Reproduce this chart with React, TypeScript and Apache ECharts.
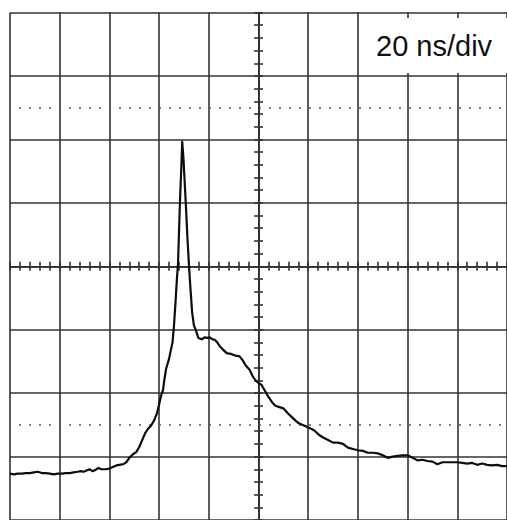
import React, { useEffect, useRef } from "react";
import * as echarts from "echarts";

// Time axis in nanoseconds (20 ns per division, centre = 0 ns)
const TIME_NS = [
  -100, -98.4, -96.8, -95.2, -93.6, -92, -90.4, -88.8, -87.2, -85.6,
  -84, -82.4, -80.8, -79.2, -77.6, -76, -74.4, -72.8, -71.6, -70.4,
  -69.2, -68, -66.8, -65.6, -64.4, -63.2, -61.6, -60, -58.4, -57.2,
  -56, -54.4, -53.2, -52, -50.4, -49.2, -48, -46.8, -45.6, -44.4,
  -43.2, -42, -40.8, -40, -39.2, -38.4, -38, -37.2, -36, -35.2,
  -34.6, -34, -33.4, -32.8, -32.4, -31.6, -31, -30.7, -30.2, -29.3,
  -28.6, -28, -27.4, -26.7, -26, -25.2, -24.2, -22.8, -21.6, -20.8,
  -19.6, -18.6, -17.6, -16.6, -15.6, -14.4, -12.8, -11.2, -9.2, -7.6,
  -6.4, -5.2, -3.6, -2.4, -1.2, 0, 1.2, 2.4, 4, 5.6,
  6.8, 8.4, 10, 11.6, 13.2, 14.8, 16, 17.6, 20, 21.6,
  22.8, 24.4, 26, 28, 30, 32, 34, 36, 38, 40,
  42, 44, 46, 48, 50, 52, 54, 56, 58, 60,
  62, 64, 66, 68, 70, 72, 74, 76, 78, 80,
  82, 84, 86, 88, 90, 92, 94, 96, 98, 100,
];

// Trace level in vertical divisions (centre line = 0)
const LEVEL_DIV = [
  -3.27, -3.28, -3.27, -3.27, -3.26, -3.26, -3.25, -3.24, -3.26, -3.26,
  -3.27, -3.28, -3.27, -3.27, -3.26, -3.26, -3.25, -3.24, -3.23, -3.24,
  -3.22, -3.2, -3.23, -3.21, -3.18, -3.2, -3.2, -3.19, -3.16, -3.14,
  -3.13, -3.12, -3.09, -3.02, -2.96, -2.93, -2.85, -2.74, -2.63, -2.56,
  -2.51, -2.43, -2.31, -2.18, -2.04, -1.95, -1.82, -1.62, -1.46, -1.31,
  -1.2, -0.93, -0.57, -0.18, 0.03, 1.02, 1.62, 1.96, 1.7, 1.02,
  0.45, 0.03, -0.34, -0.73, -0.93, -1.01, -1.13, -1.15, -1.12, -1.13,
  -1.12, -1.15, -1.16, -1.2, -1.26, -1.31, -1.37, -1.38, -1.41, -1.42,
  -1.48, -1.56, -1.63, -1.73, -1.8, -1.84, -1.87, -1.95, -2.06, -2.15,
  -2.2, -2.22, -2.24, -2.31, -2.37, -2.43, -2.47, -2.5, -2.54, -2.57,
  -2.6, -2.66, -2.7, -2.74, -2.78, -2.78, -2.8, -2.86, -2.88, -2.9,
  -2.91, -2.94, -2.94, -2.95, -2.98, -3.02, -3.0, -2.99, -2.98, -2.98,
  -3.02, -3.06, -3.05, -3.07, -3.08, -3.12, -3.09, -3.09, -3.09, -3.09,
  -3.1, -3.11, -3.1, -3.13, -3.11, -3.13, -3.14, -3.13, -3.15, -3.15,
];

const TIME_RANGE_NS = [-100, 100];
const TIME_PER_DIV_NS = 20;
const LEVEL_RANGE_DIV = [-4, 4];
const LEVEL_PER_DIV = 1;
const MARKER_LEVELS_DIV = [2.5, -2.5];
const SCALE_LABEL = "20 ns/div";

export default function App() {
  const ref = useRef<HTMLDivElement>(null);

  useEffect(() => {
    if (!ref.current) return;
    const chart = echarts.init(ref.current, null, { renderer: "svg" });
    const gridColor = "#333333";
    const lineStyle = { color: gridColor, width: 1.6 };

    const xBase = {
      type: "value",
      min: TIME_RANGE_NS[0],
      max: TIME_RANGE_NS[1],
      interval: TIME_PER_DIV_NS,
      axisLabel: { show: false },
    };
    const yBase = {
      type: "value",
      min: LEVEL_RANGE_DIV[0],
      max: LEVEL_RANGE_DIV[1],
      interval: LEVEL_PER_DIV,
      axisLabel: { show: false },
    };
    const gridAxis = {
      axisLine: { show: false },
      axisTick: { show: false },
      splitLine: { show: true, lineStyle },
    };
    const centreAxis = (inside: boolean) => ({
      axisLine: { show: true, onZero: true, onZeroAxisIndex: 0, lineStyle },
      axisTick: { show: true, inside, length: 4.5, lineStyle },
      minorTick: { show: true, splitNumber: 5, length: 4.5, lineStyle },
      splitLine: { show: false },
    });

    const option = {
      animation: false,
      title: {
        text: SCALE_LABEL,
        left: 362,
        top: 18,
        padding: [13, 20, 13, 14],
        backgroundColor: "#ffffff",
        textStyle: {
          fontFamily: "'Liberation Sans', Arial, sans-serif",
          fontSize: 29,
          fontWeight: "normal",
          color: "#111111",
        },
      },
      grid: { left: 10, top: 12.5, width: 500, height: 512, containLabel: false },
      xAxis: [
        { ...xBase, position: "bottom", ...gridAxis },
        { ...xBase, position: "bottom", ...centreAxis(true) },
        { ...xBase, position: "bottom", ...centreAxis(false) },
      ],
      yAxis: [
        { ...yBase, position: "left", ...gridAxis },
        { ...yBase, position: "left", ...centreAxis(true) },
        { ...yBase, position: "left", ...centreAxis(false) },
      ],
      series: [
        {
          type: "line",
          xAxisIndex: 0,
          yAxisIndex: 0,
          data: TIME_NS.map((t, i) => [t, LEVEL_DIV[i]]),
          showSymbol: false,
          symbol: "none",
          lineStyle: { color: "#0d0d0d", width: 2.2, join: "round" },
          z: 5,
          silent: true,
          markLine: {
            silent: true,
            symbol: "none",
            label: { show: false },
            lineStyle: { type: [2, 8], dashOffset: 1, color: "#555555", width: 1.6 },
            data: MARKER_LEVELS_DIV.map((v) => ({ yAxis: v })),
          },
        },
      ],
    };

    chart.setOption(option as any);
    return () => chart.dispose();
  }, []);

  return (
    <div
      ref={ref}
      style={{ position: "fixed", left: 0, top: 0, width: 507, height: 520, background: "#fff" }}
    />
  );
}
